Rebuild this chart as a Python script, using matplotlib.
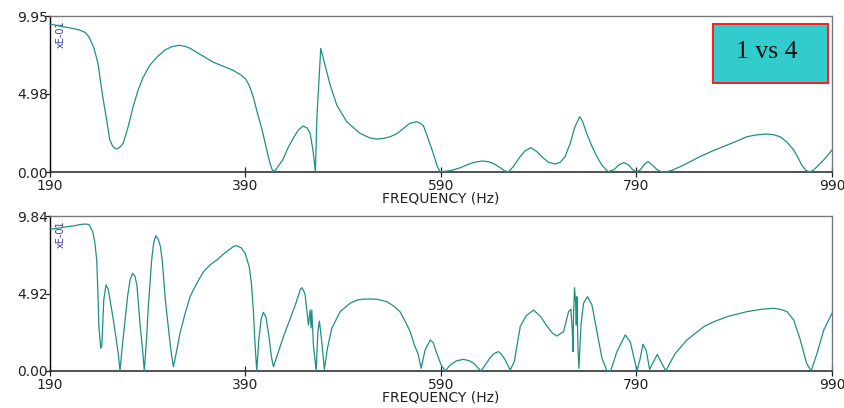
import matplotlib.pyplot as plt
from matplotlib.patches import Rectangle

PALETTE = {
    "paper": "#ffffff",
    "trace": "#1f8f86",
    "frame": "#7a7a7a",
    "axis": "#000000",
    "units": "#3a3aa8",
    "badge": "#33cccc",
    "badge_edge": "#ff1a1a",
}

# response 1 vs 4, upper panel (values in units of E-01)
top_freq = [
    190, 200, 210, 220, 226, 230, 235, 239, 244, 248, 251, 254, 257.5, 261, 265,
    270, 275, 280, 285, 292, 299.5, 308, 315, 322, 328, 333, 345, 357, 367, 377,
    385, 390, 394, 398, 402, 407, 411, 415, 418, 421, 428, 434, 439, 444, 449,
    453, 456, 459, 461.5, 463, 465, 467, 471, 476.6, 483.4, 493.5, 507, 517, 524,
    531, 538, 545, 552, 558, 565, 569, 572, 577, 582, 586, 589, 595, 602.5, 610,
    616.5, 624, 632, 638, 643.5, 650, 655, 659, 664, 671, 676, 682, 688, 694.6,
    700, 707, 712, 717, 722, 727, 732, 735, 739, 744, 749.5, 755, 761, 767, 772,
    777, 782, 786, 790, 794, 799, 802, 806, 811, 815, 819.5, 826, 835, 845, 855,
    868, 882.6, 893, 903, 912, 922, 930, 937, 944, 950.8, 955, 959, 963, 967,
    971, 974.7, 982, 990,
]
top_amp = [
    9.44, 9.30, 9.20, 9.06, 8.90, 8.60, 7.90, 6.95, 4.78, 3.30, 2.10, 1.65, 1.47, 1.55, 1.85,
    2.90, 4.15, 5.20, 6.00, 6.80, 7.33, 7.80, 8.00, 8.08, 8.02, 7.90, 7.45, 7.00, 6.75, 6.50,
    6.20, 5.95, 5.50, 4.78, 3.80, 2.68, 1.60, 0.57, 0.02, 0.15, 0.77, 1.60, 2.17, 2.68, 2.93,
    2.80, 2.49, 1.40, 0.02, 3.44, 5.70, 7.89, 6.90, 5.55, 4.27, 3.21, 2.47, 2.18, 2.10,
    2.14, 2.25, 2.45, 2.80, 3.10, 3.21, 3.10, 2.95, 2.10, 1.20, 0.40, 0.02, 0.05, 0.13, 0.28,
    0.45, 0.62, 0.70, 0.66, 0.55, 0.30, 0.08, 0.00, 0.35, 0.98, 1.35, 1.55, 1.30, 0.89,
    0.62, 0.51, 0.62, 0.98, 1.80, 2.89, 3.53, 3.20, 2.47, 1.70, 0.98, 0.40, 0.02, 0.15, 0.45,
    0.60, 0.45, 0.15, 0.00, 0.15, 0.55, 0.66, 0.45, 0.15, 0.03, 0.00, 0.10, 0.35, 0.66, 0.98,
    1.35, 1.72, 1.98, 2.25, 2.36, 2.42, 2.38, 2.25, 1.90, 1.40, 0.95, 0.45, 0.12, 0.00,
    0.12, 0.34, 0.80, 1.40,
]

# lower panel
bot_freq = [
    190, 200, 207, 215, 221, 226, 230, 233.7, 236, 237.8, 239, 240, 241.9, 243, 245,
    247.3, 249.5, 252, 254.8, 258, 260, 261.6, 264, 266.8, 269.5, 272, 274.6, 277, 279,
    282, 284.5, 286.5, 289, 290.5, 294, 296, 298.2, 300.5, 303, 305, 308, 311, 313.5,
    316.2, 319, 323, 328, 333.3, 340, 347, 354, 360.6, 368, 377.6, 381, 386, 389.6,
    393.8, 396, 398, 399.5, 401.5, 403.5, 406, 408.3, 411, 414, 416.5, 418.6, 422,
    428.8, 435, 441, 445.9, 447.6, 449.5, 451, 454.4, 456.1, 457.1, 457.8, 459.5, 462.3,
    464, 465.6, 468, 470.7, 473.8, 478.3, 486.8, 497, 504, 510, 517.5, 525, 534.6, 541,
    548, 553, 558.5, 563, 566.4, 569.7, 573.7, 579, 582, 585.6, 590, 594.3, 599.4, 606,
    613, 619, 623.5, 627, 631, 639.8, 644, 648.8, 652, 655.7, 660.8, 665, 671, 677,
    684.7, 692, 698.4, 704, 708.6, 715.4, 720.5, 722.9, 724.3, 725, 725.6, 726.6, 727.7,
    728.4, 729.1, 730.1, 731.1, 733.2, 735.8, 739.9, 744.4, 749.5, 754.7, 759.8, 763.5,
    770, 778.5, 783.6, 790.5, 793.8, 796.6, 800, 803.4, 807, 811.2, 815, 820, 825, 829.7,
    841.6, 858.7, 870, 882.6, 903, 918, 930, 937, 944, 950.8, 957.6, 964, 968.6, 974.7,
    981.5, 990,
]
bot_amp = [
    9.00, 9.08, 9.16, 9.22, 9.30, 9.33, 9.30, 8.85, 8.10, 7.05, 5.00, 2.81, 1.44, 1.60, 4.50,
    5.46, 5.20, 4.30, 3.24, 1.90, 1.00, 0.00, 1.60, 3.24, 4.80, 5.80, 6.20, 6.00, 5.40,
    3.05, 1.50, 0.00, 2.30, 4.00, 7.05, 8.10, 8.59, 8.40, 7.90, 6.90, 4.50, 2.80, 1.40,
    0.27, 1.10, 2.40, 3.60, 4.72, 5.55, 6.30, 6.75, 7.05, 7.45, 7.90, 7.96, 7.80, 7.47,
    6.62, 5.60, 3.87, 2.00, 0.00, 1.90, 3.30, 3.72, 3.40, 2.20, 0.90, 0.27, 0.90,
    2.18, 3.20, 4.20, 5.14, 5.29, 5.10, 4.83, 2.92, 3.87, 2.73, 3.87, 1.65, 0.00,
    2.50, 3.17, 1.86, 0.10, 1.44, 2.71, 3.77, 4.30, 4.50, 4.56, 4.57, 4.55, 4.40, 4.15,
    3.77, 3.20, 2.50, 1.60, 1.12, 0.17, 1.33, 1.97, 1.80, 1.14, 0.40, 0.00, 0.38, 0.65,
    0.74, 0.65, 0.49, 0.25, 0.00, 0.80, 1.10, 1.23, 1.05, 0.70, 0.06, 0.60, 2.81, 3.50,
    3.87, 3.45, 2.85, 2.40, 2.22, 2.50, 3.77, 3.92, 2.60, 1.23, 3.56, 5.29, 4.40,
    2.92, 4.72, 1.44, 0.17, 2.92, 4.30, 4.72, 4.19, 2.50, 0.80, 0.00, 0.00,
    1.23, 2.29, 1.86, 0.00, 0.80, 1.70, 1.30, 0.10, 0.55, 1.05, 0.60, 0.00, 0.60, 1.12,
    1.97, 2.81, 3.15, 3.45, 3.77, 3.92, 3.98, 3.92, 3.77, 3.24, 1.97, 0.49, 0.00, 1.12,
    2.60, 3.66,
]

freq_ticks = [190, 390, 590, 790, 990]
top_ticks = [0.0, 4.98, 9.95]
bot_ticks = [0.0, 4.92, 9.84]
units_label = "xE-01"
badge_text = "1 vs 4"


def draw_panel(ax, freq, amp, yticks):
    ax.plot(freq, amp, color=PALETTE["trace"], lw=0.9, clip_on=False, zorder=3)
    ax.set_xlim(freq_ticks[0], freq_ticks[-1])
    ax.set_ylim(yticks[0], yticks[-1])
    ax.set_xticks(freq_ticks)
    ax.set_xticklabels([str(f) for f in freq_ticks])
    ax.set_yticks(yticks)
    ax.set_yticklabels([f"{v:.2f}" for v in yticks])
    ax.tick_params(axis="x", direction="inout", length=6.5, width=0.9, pad=1.5,
                   labelsize=10, colors="#222222")
    ax.tick_params(axis="y", direction="out", length=3.6, width=0.9, pad=-2.0,
                   labelsize=10, colors="#222222")
    ax.set_xlabel("FREQUENCY (Hz)", fontsize=10, labelpad=-1, color="#222222")
    for side in ("top", "right"):
        ax.spines[side].set_color(PALETTE["frame"])
        ax.spines[side].set_linewidth(1.0)
    ax.spines["left"].set_color(PALETTE["axis"])
    ax.spines["left"].set_linewidth(1.0)
    ax.spines["bottom"].set_color("#333333")
    ax.spines["bottom"].set_linewidth(1.2)
    ax.text(0.014, 0.97, units_label, transform=ax.transAxes, rotation=90,
            ha="center", va="top", fontsize=7, color=PALETTE["units"], zorder=2)


fig = plt.figure(figsize=(8.45, 4.08), dpi=100, facecolor=PALETTE["paper"])
ax_top = fig.add_axes([50 / 845, 1 - 172 / 408, 782 / 845, 156 / 408])
ax_bot = fig.add_axes([50 / 845, 1 - 371 / 408, 782 / 845, 155 / 408])

draw_panel(ax_top, top_freq, top_amp, top_ticks)
draw_panel(ax_bot, bot_freq, bot_amp, bot_ticks)

fig.patches.append(Rectangle((713 / 845, 1 - 82.5 / 408), 115 / 845, 58.5 / 408,
                             transform=fig.transFigure, facecolor=PALETTE["badge"],
                             edgecolor=PALETTE["badge_edge"], lw=1.4))
fig.text(767 / 845, 1 - 52 / 408, badge_text, ha="center", va="center",
         fontsize=18.5, family="Liberation Serif", color="#111111")

fig.savefig("out.png", dpi=100, facecolor=PALETTE["paper"])
